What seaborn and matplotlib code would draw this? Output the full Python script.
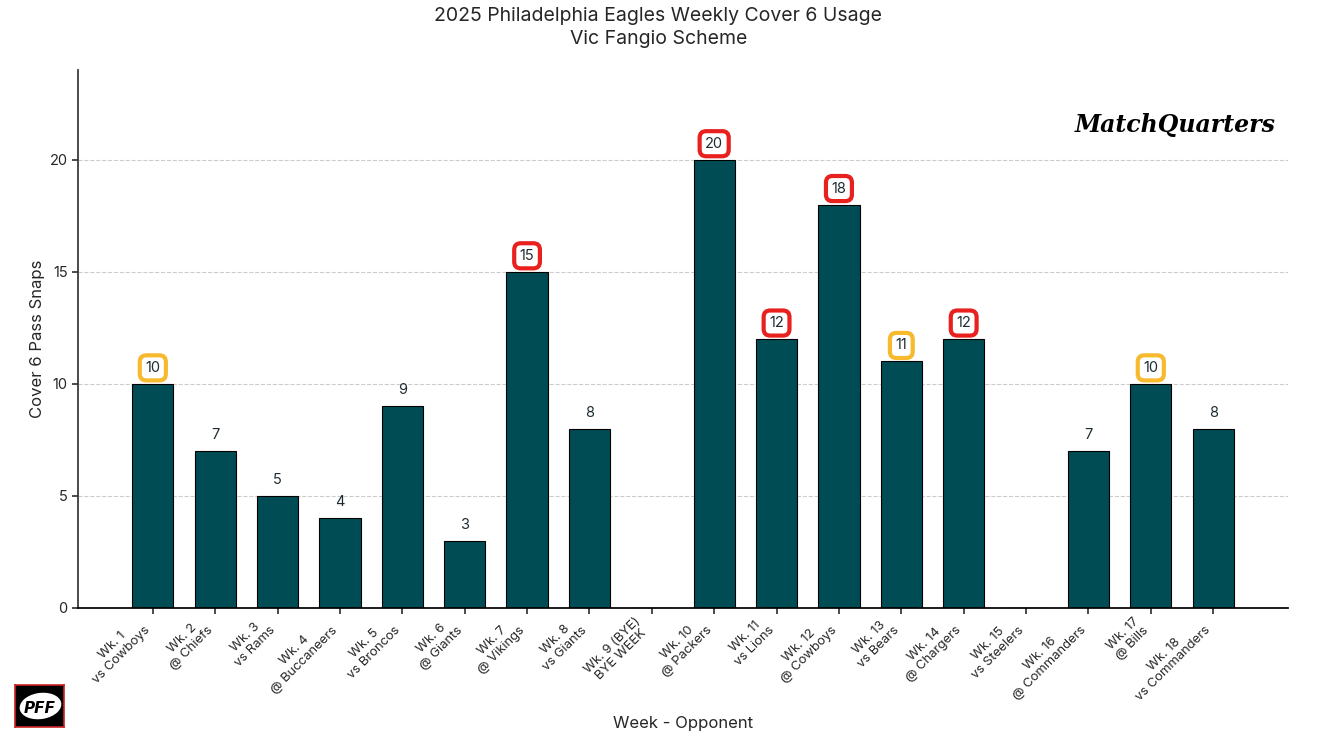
import pandas as pd
import matplotlib.pyplot as plt
import seaborn as sns
from matplotlib.patches import Ellipse

# Données
weeks = ['Wk. 1', 'Wk. 2', 'Wk. 3', 'Wk. 4', 'Wk. 5', 'Wk. 6', 'Wk. 7', 'Wk. 8',
         'Wk. 9 (BYE)', 'Wk. 10', 'Wk. 11', 'Wk. 12', 'Wk. 13', 'Wk. 14',
         'Wk. 15', 'Wk. 16', 'Wk. 17', 'Wk. 18']
opponents = ['vs Cowboys', '@ Chiefs', 'vs Rams', '@ Buccaneers', 'vs Broncos',
             '@ Giants', '@ Vikings', 'vs Giants', 'BYE WEEK', '@ Packers',
             'vs Lions', '@ Cowboys', 'vs Bears', '@ Chargers', 'vs Steelers',
             '@ Commanders', '@ Bills', 'vs Commanders']
snaps = [10, 7, 5, 4, 9, 3, 15, 8, 0, 20, 12, 18, 11, 12, 0, 7, 10, 8]

BAR_COLOR = '#004C54'
RED = '#E8201E'
GOLD = '#F7B92E'


def generate_plot():
    df = pd.DataFrame({
        'Label': [f"{w}\n{o}" for w, o in zip(weeks, opponents)],
        'Snaps': snaps,
    })

    sns.set_theme(style="white")
    plt.rcParams['font.family'] = ['Inter', 'DejaVu Sans']

    fig = plt.figure(figsize=(13.17, 7.41), dpi=100)
    ax = fig.add_axes([0.0592, 0.1795, 0.9188, 0.726])

    sns.barplot(data=df, x='Label', y='Snaps', color=BAR_COLOR, width=0.66,
                edgecolor='black', linewidth=0.8, saturation=1, ax=ax)

    ax.set_ylim(0, 24)
    ax.set_xlim(-1.2, len(df) - 1 + 1.2)
    ax.set_yticks([0, 5, 10, 15, 20])
    for y in [5, 10, 15, 20]:
        ax.axhline(y, color='#cccccc', linestyle='--', linewidth=0.8, zorder=0)

    # Étiquettes de valeurs
    for i, v in enumerate(df['Snaps']):
        if v == 0:
            continue
        if v >= 12:
            box = dict(boxstyle='round,pad=0.38,rounding_size=0.45',
                       fc='white', ec=RED, lw=3)
        elif v >= 10:
            box = dict(boxstyle='round,pad=0.38,rounding_size=0.45',
                       fc='white', ec=GOLD, lw=3)
        else:
            box = None
        ax.annotate(str(v), (i, v), xytext=(0, 11.5), textcoords='offset points',
                    ha='center', va='center', fontsize=10.5, color='#1f2d33',
                    bbox=box, zorder=5)

    for s in ['top', 'right']:
        ax.spines[s].set_visible(False)
    ax.spines['left'].set_color('#333333')
    ax.spines['bottom'].set_color('black')

    ax.tick_params(axis='both', length=4, color='#333333', labelsize=10.5)
    ax.tick_params(axis='x', bottom=True, labelsize=9.4, pad=1)
    ax.tick_params(axis='y', left=True)
    plt.setp(ax.get_xticklabels(), rotation=45, ha='right',
             multialignment='center', linespacing=1.15)

    ax.set_xlabel('Week - Opponent', fontsize=12)
    ax.set_ylabel('Cover 6 Pass Snaps', fontsize=12)
    ax.xaxis.set_label_coords(0.5, -0.2)
    ax.yaxis.set_label_coords(-0.027, 0.5)

    fig.suptitle('2025 Philadelphia Eagles Weekly Cover 6 Usage\nVic Fangio Scheme',
                 fontsize=14, y=0.99, linespacing=1.3)

    ax.text(0.99, 0.898, 'MatchQuarters', transform=ax.transAxes, ha='right',
            va='center', fontsize=17, fontweight='bold', fontstyle='italic',
            family='DejaVu Serif', color='black')

    # Logo PFF en bas à gauche
    logo = fig.add_axes([15 / 1317, 1 - 727 / 741, 49 / 1317, 42 / 741])
    logo.set_xlim(0, 1)
    logo.set_ylim(0, 1)
    logo.set_xticks([])
    logo.set_yticks([])
    logo.set_facecolor('black')
    for s in logo.spines.values():
        s.set_color('#cc2222')
        s.set_linewidth(1.2)
    logo.add_patch(Ellipse((0.52, 0.5), 0.86, 0.62, angle=12, fc='white', ec='none'))
    logo.text(0.5, 0.44, 'PFF', ha='center', va='center', fontsize=11,
              fontweight='bold', fontstyle='italic', color='black',
              family='DejaVu Sans')

    plt.savefig('out.png', dpi=100)


if __name__ == "__main__":
    generate_plot()
